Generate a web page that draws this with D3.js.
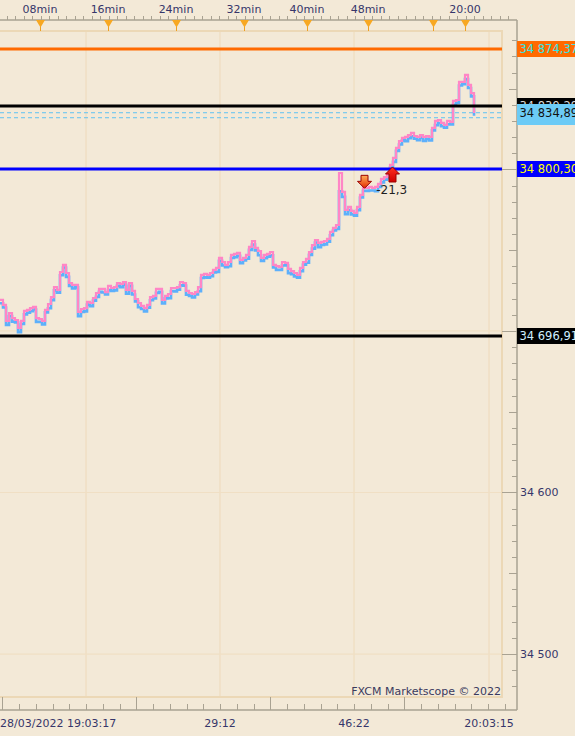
<!DOCTYPE html>
<html><head><meta charset="utf-8">
<script src="https://cdn.jsdelivr.net/npm/d3@7"></script>
<style>html,body{margin:0;padding:0;background:#f3e9d7;}svg{display:block;font-family:"DejaVu Sans",Verdana,sans-serif;}</style>
</head><body><svg id="c" width="575" height="736"></svg>
<script>
// ---- data ----
const askSeries = [34719.2,34716.1,34706.2,34711.1,34708.0,34706.8,34701.9,34706.2,34712.4,34713.0,
34714.2,34714.9,34708.0,34707.4,34706.2,34713.0,34716.7,34721.0,34727.2,34725.4,
34736.5,34740.9,34735.9,34729.7,34728.5,34728.5,34711.8,34713.6,34714.2,34718.0,
34717.3,34720.4,34723.5,34726.0,34726.0,34724.1,34727.9,34726.6,34727.2,34729.7,
34729.1,34730.3,34725.4,34729.7,34724.8,34719.8,34717.3,34715.5,34714.2,34716.1,
34721.0,34721.7,34726.0,34726.0,34719.2,34721.7,34722.9,34726.6,34726.6,34727.2,
34730.3,34729.7,34724.8,34723.5,34722.9,34724.1,34727.2,34734.7,34735.3,34734.7,
34735.9,34737.8,34739.0,34745.2,34742.7,34740.9,34742.7,34747.1,34747.7,34748.3,
34744.0,34745.2,34747.1,34752.0,34755.7,34751.4,34749.5,34745.2,34747.1,34747.7,
34748.9,34740.9,34740.2,34739.6,34742.7,34742.1,34738.4,34737.1,34735.9,34734.7,
34739.0,34742.7,34744.6,34748.9,34753.2,34756.3,34754.5,34755.1,34755.7,34757.0,
34761.3,34763.8,34765.6,34797.8,34786.1,34774.9,34776.8,34774.3,34773.1,34776.8,
34784.2,34789.2,34788.5,34789.2,34788.5,34789.2,34791.0,34794.1,34795.3,34796.6,
34802.8,34807.1,34813.3,34817.6,34819.5,34820.1,34821.3,34822.6,34820.7,34820.1,
34821.3,34820.1,34820.7,34820.1,34825.7,34830.0,34830.6,34828.8,34827.5,34830.0,
34829.4,34842.4,34843.0,34854.2,34854.2,34858.5,34852.3,34847.3,34835.0];
const bidSeries = [34717.2,34714.5,34703.8,34709.3,34705.8,34705.3,34699.3,34704.3,34710.3,34711.3,
34712.2,34713.3,34705.6,34705.6,34704.0,34711.5,34714.1,34719.1,34725.1,34723.7,
34734.5,34739.3,34733.5,34727.9,34726.3,34727.0,34709.2,34711.7,34712.1,34716.3,
34715.3,34718.8,34721.1,34724.2,34723.8,34722.6,34725.3,34724.7,34725.1,34728.0,
34727.1,34728.7,34723.0,34727.9,34722.6,34718.3,34714.7,34713.6,34712.1,34714.4,
34719.0,34720.1,34723.6,34724.2,34717.0,34720.2,34720.3,34724.7,34724.5,34725.5,
34728.3,34728.1,34722.4,34721.7,34720.7,34722.6,34724.6,34732.8,34733.2,34733.0,
34733.9,34736.2,34736.6,34743.4,34740.5,34739.4,34740.1,34745.2,34745.6,34746.6,
34742.0,34743.6,34744.7,34750.2,34753.5,34749.9,34746.9,34743.3,34745.0,34746.0,
34746.9,34739.3,34737.8,34737.8,34740.5,34740.6,34735.8,34735.2,34733.8,34733.0,
34737.0,34741.1,34742.2,34747.1,34751.0,34754.8,34751.9,34753.2,34753.6,34755.3,
34759.3,34762.2,34763.2,34786.5,34783.0,34772.3,34774.9,34772.2,34771.4,34774.8,
34782.6,34786.8,34786.7,34787.0,34787.0,34786.6,34789.1,34792.0,34793.6,34794.6,
34801.2,34804.7,34811.5,34815.4,34818.0,34817.5,34819.4,34820.5,34819.0,34818.1,
34819.7,34817.7,34818.9,34817.9,34824.2,34827.4,34828.7,34826.7,34825.8,34828.0,
34827.8,34840.0,34841.2,34852.0,34852.7,34855.9,34850.4,34845.2,34833.3];

// horizontal level lines (price, colour, label text colour)
const levelPrices = [34874.37, 34839.29, 34800.30, 34696.91];
const levelColors = ["#ff6a00", "#000000", "#0000ff", "#000000"];
const levelTextColors = ["#33e6e6", "#d8d8d8", "#ffff00", "#cfefff"];
const levelLabels = ["34 874,37", "34 839,29", "34 800,30", "34 696,91"];
// current price
const currentPrice = 34834.89;
const currentLabel = "34 834,89";
const quoteLines = [34835.1, 34832.0];

// y axis (34 700 and 34 800 labels sit under the level boxes, as in the original)
const yMajorTicks = [34500, 34600, 34700, 34800];
const yLabelTicks = [34500, 34600];
const yLabelTexts = ["34 500", "34 600"];

// x axis (in bar-index units)
const topTickPos = [13.33, 36, 58.67, 81.33, 102.33, 122.67, 144.33, 155];
const topTickLabels = ["08min", "16min", "24min", "32min", "40min", "48min", "", "20:00"];
const bottomTickPos = [0, 73.33, 118, 163];
const bottomTickLabels = ["28/03/2022 19:03:17", "29:12", "46:22", "20:03:15"];
const gridPos = [28.67, 73.33, 118, 163];

// trades
const tradeIdx = [121.5, 130.83];
const tradePrice = [34788.3, 34801.5];
const tradeDir = ["down", "up"];
const tradeResultLabel = "-21,3";
const tradeResultIdx = 125.4;
const tradeResultPrice = 34787.6;

// ---- drawing ----
const svg = d3.select("#c");
const W = 575, H = 736;
const plot = {left: 0, right: 502, top: 31, bottom: 697};
const axisX = 517, topAxisY = 20, bottomAxisY = 710;

const x = d3.scaleLinear().domain([0, 167.33]).range([plot.left, plot.right]);
const y = d3.scaleLinear().domain([34473.4, 34885.7]).range([plot.bottom, plot.top]);

const textCol = "#36366a", axisCol = "#a9a292", gridCol = "#f0dfc4", panelCol = "#ecd8b6";

svg.append("rect").attr("width", W).attr("height", H).attr("fill", "#f3e9d7");

// grid
const g = svg.append("g");
g.selectAll("line.vg").data(gridPos).join("line")
  .attr("x1", d => x(d)).attr("x2", d => x(d))
  .attr("y1", plot.top).attr("y2", plot.bottom)
  .attr("stroke", gridCol).attr("stroke-width", 1.5);
g.selectAll("line.hg").data(yMajorTicks).join("line")
  .attr("x1", plot.left).attr("x2", plot.right)
  .attr("y1", d => y(d)).attr("y2", d => y(d))
  .attr("stroke", gridCol).attr("stroke-width", 1.2);

// panel border
svg.append("rect").attr("x", -2).attr("y", plot.top).attr("width", plot.right + 2).attr("height", plot.bottom - plot.top)
  .attr("fill", "none").attr("stroke", panelCol).attr("stroke-width", 2);

// clip
svg.append("clipPath").attr("id", "clip").append("rect")
  .attr("x", plot.left).attr("y", plot.top).attr("width", plot.right - plot.left).attr("height", plot.bottom - plot.top);
const pg = svg.append("g").attr("clip-path", "url(#clip)");

// quote dashed lines
pg.selectAll("line.q").data(quoteLines).join("line")
  .attr("x1", plot.left).attr("x2", plot.right)
  .attr("y1", d => y(d)).attr("y2", d => y(d))
  .attr("stroke", "#5fc2f2").attr("stroke-width", 1).attr("stroke-dasharray", "4,3");

// price lines
const line = d3.line().x((d, i) => x(i)).y(d => y(d)).curve(d3.curveStepAfter);
pg.append("path").datum(bidSeries).attr("d", line).attr("fill", "none")
  .attr("stroke", "#5db0fb").attr("stroke-width", 2.6);
pg.append("path").datum(askSeries).attr("d", line).attr("fill", "none")
  .attr("stroke", "#ff86c6").attr("stroke-width", 2.2);

// level lines
pg.selectAll("line.lv").data(levelPrices).join("line")
  .attr("x1", plot.left).attr("x2", plot.right)
  .attr("y1", d => Math.round(y(d))).attr("y2", d => Math.round(y(d)))
  .attr("stroke", (d, i) => levelColors[i]).attr("stroke-width", 3);

// trade arrows
const defs = svg.append("defs");
const gd = defs.append("linearGradient").attr("id", "gdown").attr("x1", 0).attr("y1", 0).attr("x2", 0).attr("y2", 1);
gd.append("stop").attr("offset", "0").attr("stop-color", "#ffae5a");
gd.append("stop").attr("offset", "1").attr("stop-color", "#e22a00");
const gu = defs.append("linearGradient").attr("id", "gup").attr("x1", 0).attr("y1", 0).attr("x2", 0).attr("y2", 1);
gu.append("stop").attr("offset", "0").attr("stop-color", "#ff3020");
gu.append("stop").attr("offset", "1").attr("stop-color", "#d00000");
const downPath = "M-3.5,-13 L3.5,-13 L3.5,-7 L7,-7 L0,0 L-7,-7 L-3.5,-7 Z";
const upPath = "M-3.5,15 L3.5,15 L3.5,7 L7,7 L0,0 L-7,7 L-3.5,7 Z";
svg.selectAll("path.tr").data(tradeIdx).join("path")
  .attr("transform", (d, i) => `translate(${x(d)},${y(tradePrice[i])})`)
  .attr("d", (d, i) => tradeDir[i] === "down" ? downPath : upPath)
  .attr("fill", (d, i) => tradeDir[i] === "down" ? "url(#gdown)" : "url(#gup)")
  .attr("stroke", "#9a0000").attr("stroke-width", 1);
svg.append("text").attr("x", x(tradeResultIdx)).attr("y", y(tradeResultPrice))
  .attr("dy", "0.35em").attr("font-size", 12).attr("fill", "#1e1e1e").text(tradeResultLabel);

// watermark
svg.append("text").attr("x", plot.right - 1).attr("y", 695).attr("text-anchor", "end")
  .attr("font-size", 11).attr("fill", "#3a3a5e").text("FXCM Marketscope \u00a9 2022");

// right axis
svg.append("line").attr("x1", axisX).attr("x2", axisX).attr("y1", topAxisY).attr("y2", bottomAxisY)
  .attr("stroke", axisCol).attr("stroke-width", 1.5);
const yt = d3.range(34480, 34890, 10);
svg.selectAll("line.yt").data(yt).join("line")
  .attr("x1", d => d % 100 === 0 ? plot.right : (d % 50 === 0 ? axisX - 8 : axisX - 5))
  .attr("x2", axisX)
  .attr("y1", d => Math.round(y(d)) + 0.5).attr("y2", d => Math.round(y(d)) + 0.5)
  .attr("stroke", axisCol).attr("stroke-width", 1);
svg.selectAll("text.yl").data(yLabelTicks).join("text")
  .attr("x", axisX + 3).attr("y", d => y(d)).attr("dy", "0.35em")
  .attr("font-size", 11).attr("fill", textCol).text((d, i) => yLabelTexts[i]);

// level value boxes
const boxG = svg.append("g");
function drawBox(p, i) {
  const cy = Math.round(y(p));
  boxG.append("rect").attr("x", axisX).attr("y", cy - 8).attr("width", W - axisX).attr("height", 16)
    .attr("fill", levelColors[i]);
  boxG.append("text").attr("x", axisX + 2.5).attr("y", cy).attr("dy", "0.36em")
    .attr("font-size", 11.5).attr("fill", levelTextColors[i]).text(levelLabels[i]);
}
drawBox(levelPrices[0], 0);
drawBox(levelPrices[1], 1);
// current price box
const cpy = Math.round(y(currentPrice));
boxG.append("rect").attr("x", axisX).attr("y", cpy - 9).attr("width", W - axisX).attr("height", 21)
  .attr("fill", "#6ccbf6");
boxG.append("text").attr("x", axisX + 2.5).attr("y", cpy).attr("dy", "0.36em")
  .attr("font-size", 11.5).attr("fill", "#111").text(currentLabel);
drawBox(levelPrices[2], 2);
drawBox(levelPrices[3], 3);

// top axis
svg.append("line").attr("x1", 0).attr("x2", axisX).attr("y1", topAxisY).attr("y2", topAxisY)
  .attr("stroke", axisCol).attr("stroke-width", 1.5);
const topMinor = d3.range(2.33, 172.3, 2.8333);
svg.selectAll("line.tm").data(topMinor).join("line")
  .attr("x1", d => Math.round(x(d)) + 0.5).attr("x2", d => Math.round(x(d)) + 0.5)
  .attr("y1", topAxisY - 4).attr("y2", topAxisY)
  .attr("stroke", axisCol).attr("stroke-width", 1);
svg.selectAll("line.tst").data(topTickPos).join("line")
  .attr("x1", d => Math.round(x(d)) + 0.5).attr("x2", d => Math.round(x(d)) + 0.5)
  .attr("y1", topAxisY).attr("y2", plot.top)
  .attr("stroke", "#f0a020").attr("stroke-width", 1);
svg.selectAll("path.tri").data(topTickPos).join("path")
  .attr("transform", d => `translate(${Math.round(x(d)) + 0.5},${topAxisY})`)
  .attr("d", "M-4.5,0 L4.5,0 L0,7.5 Z").attr("fill", "#f7a823");
svg.selectAll("text.tl").data(topTickPos).join("text")
  .attr("x", d => x(d)).attr("y", 13).attr("text-anchor", "middle")
  .attr("font-size", 11).attr("fill", textCol).text((d, i) => topTickLabels[i]);

// bottom axis
svg.append("line").attr("x1", 0).attr("x2", axisX).attr("y1", bottomAxisY).attr("y2", bottomAxisY)
  .attr("stroke", axisCol).attr("stroke-width", 1.5);
const botTicks = d3.range(0.75, 172.3, 5.5833);
svg.selectAll("line.bt").data(botTicks).join("line")
  .attr("x1", d => Math.round(x(d)) + 0.5).attr("x2", d => Math.round(x(d)) + 0.5)
  .attr("y1", (d, i) => i % 8 === 0 ? bottomAxisY - 13 : bottomAxisY - 6).attr("y2", bottomAxisY)
  .attr("stroke", axisCol).attr("stroke-width", 1);
svg.selectAll("text.bl").data(bottomTickPos).join("text")
  .attr("x", d => x(d)).attr("y", 727)
  .attr("text-anchor", (d, i) => i === 0 ? "start" : "middle")
  .attr("font-size", 11).attr("fill", textCol).text((d, i) => bottomTickLabels[i]);
</script></body></html>
